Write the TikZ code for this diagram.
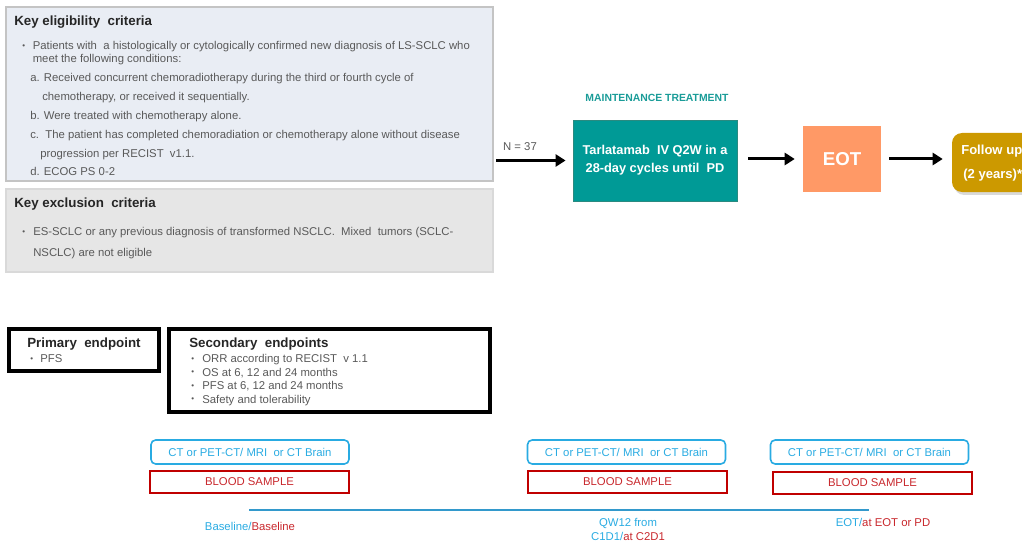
\documentclass[tikz,border=0pt]{standalone}
\usepackage{fontspec}
\setmainfont{Liberation Sans}
\usetikzlibrary{arrows.meta,shadows}
\definecolor{txtgray}{HTML}{595959}
\definecolor{ttlgray}{HTML}{262626}
\definecolor{eligfill}{HTML}{E9EDF4}
\definecolor{eligdraw}{HTML}{C4C4C4}
\definecolor{exclfill}{HTML}{E6E6E6}
\definecolor{excldraw}{HTML}{D9D9D9}
\definecolor{tealbox}{HTML}{009A96}
\definecolor{tealdraw}{HTML}{2A8A80}
\definecolor{tealtext}{HTML}{1A9C98}
\definecolor{eotfill}{HTML}{FF9966}
\definecolor{fufill}{HTML}{CC9900}
\definecolor{ctblue}{HTML}{29ABE2}
\definecolor{bred}{HTML}{C00000}
\definecolor{bredtext}{HTML}{C8282D}
\definecolor{tline}{HTML}{3399CC}
\newcommand{\smbul}{\raisebox{0.9pt}{\fontsize{6}{7}\selectfont •}}
\begin{document}
\begin{tikzpicture}[x=0.75pt,y=-0.75pt,
  sz/.style 2 args={minimum width=#1*0.75pt, minimum height=#2*0.75pt, inner sep=0pt},
  body/.style={font=\fontsize{8.5}{10}\selectfont, text=txtgray, inner sep=0pt, anchor=base west},
  ttl/.style={font=\bfseries\fontsize{10}{12}\selectfont, text=ttlgray, inner sep=0pt, anchor=base west},
  eligbox/.style={draw=eligdraw, line width=0.8pt, fill=eligfill, rectangle},
  exclbox/.style={draw=excldraw, line width=0.8pt, fill=exclfill, rectangle},
  endbox/.style={draw=black, line width=2.4pt, rectangle},
  ctbox/.style={draw=ctblue, line width=1.2pt, rounded corners=3.5pt, rectangle, text=ctblue, font=\fontsize{8.5}{10}\selectfont},
  bloodbox/.style={draw=bred, line width=1.2pt, rectangle, text=bredtext, font=\fontsize{8.5}{10}\selectfont},
  tllabel/.style={font=\fontsize{8.5}{10.5}\selectfont, align=center, inner sep=0pt},
  flow/.style={draw=black, line width=2.25pt, -{Triangle[length=7.5pt,width=9pt]}}
]
\useasboundingbox (0,0) rectangle (1022,542);
\clip (0,0) rectangle (1022,542);

% ---------- eligibility ----------
\node[eligbox, sz={487}{174}] (elig) at (249.5,94) {};
\node[ttl] (eligt) at (14,26) {Key eligibility\ \ criteria};
\node[body] (e1b) at (22,50) {\smbul};
\node[body] (e1) at (32.5,50) {Patients with\ \ a histologically or cytologically confirmed new diagnosis of LS-SCLC who};
\node[body] (e2) at (32.5,63) {meet the following conditions:};
\node[body] (ea) at (30,82) {a. Received concurrent chemoradiotherapy during the third or fourth cycle of};
\node[body] (ea2) at (42,100.5) {chemotherapy, or received it sequentially.};
\node[body] (eb) at (30,119) {b. Were treated with chemotherapy alone.};
\node[body] (ec) at (30,138) {c.\ \ The patient has completed chemoradiation or chemotherapy alone without disease};
\node[body] (ec2) at (40,157) {progression per RECIST\ \ v1.1.};
\node[body] (ed) at (30,175.5) {d. ECOG PS 0-2};

% ---------- exclusion ----------
\node[exclbox, sz={487}{83}] (excl) at (249.5,230.5) {};
\node[ttl] (exclt) at (14,207.5) {Key exclusion\ \ criteria};
\node[body] (x1b) at (22,235.5) {\smbul};
\node[body] (x1) at (33,235.5) {ES-SCLC or any previous diagnosis of transformed NSCLC.\ \ Mixed\ \ tumors (SCLC-};
\node[body] (x2) at (33,256) {NSCLC) are not eligible};

% ---------- treatment flow ----------
\node[font=\bfseries\fontsize{7.8}{9}\selectfont, text=tealtext, inner sep=0pt] (maint) at (657,98) {MAINTENANCE TREATMENT};
\node[rectangle, fill=tealbox, draw=tealdraw, line width=0.6pt, sz={164}{81}, text=white, align=center,
      font=\bfseries\fontsize{9.6}{13.5}\selectfont] (teal) at (655,160.5) {Tarlatamab\ \ IV Q2W in a\\28-day cycles until\ \ PD};
\node[rectangle, fill=eotfill, sz={78}{66}, text=white, font=\bfseries\fontsize{14}{16}\selectfont] (eot) at (842,159) {EOT};
\node[rectangle, fill=fufill, rounded corners=7.5pt, sz={140}{59},
      drop shadow={opacity=0.3, shadow xshift=1.5pt, shadow yshift=-2.2pt}] (fu) at (1022,162.5) {};
\node[font=\bfseries\fontsize{9.8}{12}\selectfont, text=white, inner sep=0pt, anchor=base west] (fu1) at (961,154.5) {Follow up};
\node[font=\bfseries\fontsize{9.8}{12}\selectfont, text=white, inner sep=0pt, anchor=base west] (fu2) at (963,178.5) {(2 years)*};

\coordinate (nstart) at (496,160.5);
\node[font=\fontsize{8.5}{10}\selectfont, text=txtgray, inner sep=0pt] (n37) at (520,147) {N = 37};
\draw[flow, shorten >=5.25pt] (nstart) -- (teal.west);
\draw[flow, shorten <=8pt, shorten >=6pt] (teal.east |- eot.west) -- (eot.west);
\draw[flow, shorten <=6pt, shorten >=6.75pt] (eot.east) -- (eot.east -| fu.west);

% ---------- endpoints ----------
\node[endbox, sz={150}{42}] (prim) at (84,350) {};
\node[ttl] (primt) at (27,347.5) {Primary\ \ endpoint};
\node[body] (p1b) at (30,362.5) {\smbul};
\node[body] (p1) at (40,362.5) {PFS};

\node[endbox, sz={321}{83}] (sec) at (329.5,370.5) {};
\node[ttl] (sect) at (189,347.5) {Secondary\ \ endpoints};
\node[body] (s1b) at (191,362.5) {\smbul};
\node[body] (s1) at (202,362.5) {ORR according to RECIST\ \ v 1.1};
\node[body] (s2b) at (191,376) {\smbul};
\node[body] (s2) at (202,376) {OS at 6, 12 and 24 months};
\node[body] (s3b) at (191,389.5) {\smbul};
\node[body] (s3) at (202,389.5) {PFS at 6, 12 and 24 months};
\node[body] (s4b) at (191,403) {\smbul};
\node[body] (s4) at (202,403) {Safety and tolerability};

% ---------- assessments ----------
\node[ctbox, sz={198}{24}] (ct1) at (250,452) {CT or PET-CT/ MRI\ \ or CT Brain};
\node[bloodbox, sz={199}{22}] (bl1) at (249.5,482) {BLOOD SAMPLE};
\node[ctbox, sz={198}{24}] (ct2) at (626.5,452) {CT or PET-CT/ MRI\ \ or CT Brain};
\node[bloodbox, sz={199}{22}] (bl2) at (627.5,482) {BLOOD SAMPLE};
\node[ctbox, sz={198}{24}] (ct3) at (869.5,452) {CT or PET-CT/ MRI\ \ or CT Brain};
\node[bloodbox, sz={199}{22}] (bl3) at (872.5,483) {BLOOD SAMPLE};

\coordinate (tls) at (249,509.5);
\coordinate (tle) at (869,509.5);
\draw[tline, line width=1.5pt] (tls) -- (tle);

\node[tllabel] (lab1) at (250,526) {\textcolor{ctblue}{Baseline/}\textcolor{bredtext}{Baseline}};
\node[tllabel] (lab2) at (628,529) {\textcolor{ctblue}{QW12 from}\\\textcolor{ctblue}{C1D1/}\textcolor{bredtext}{at C2D1}};
\node[tllabel] (lab3) at (883,522) {\textcolor{ctblue}{EOT/}\textcolor{bredtext}{at EOT or PD}};
\end{tikzpicture}
\end{document}
